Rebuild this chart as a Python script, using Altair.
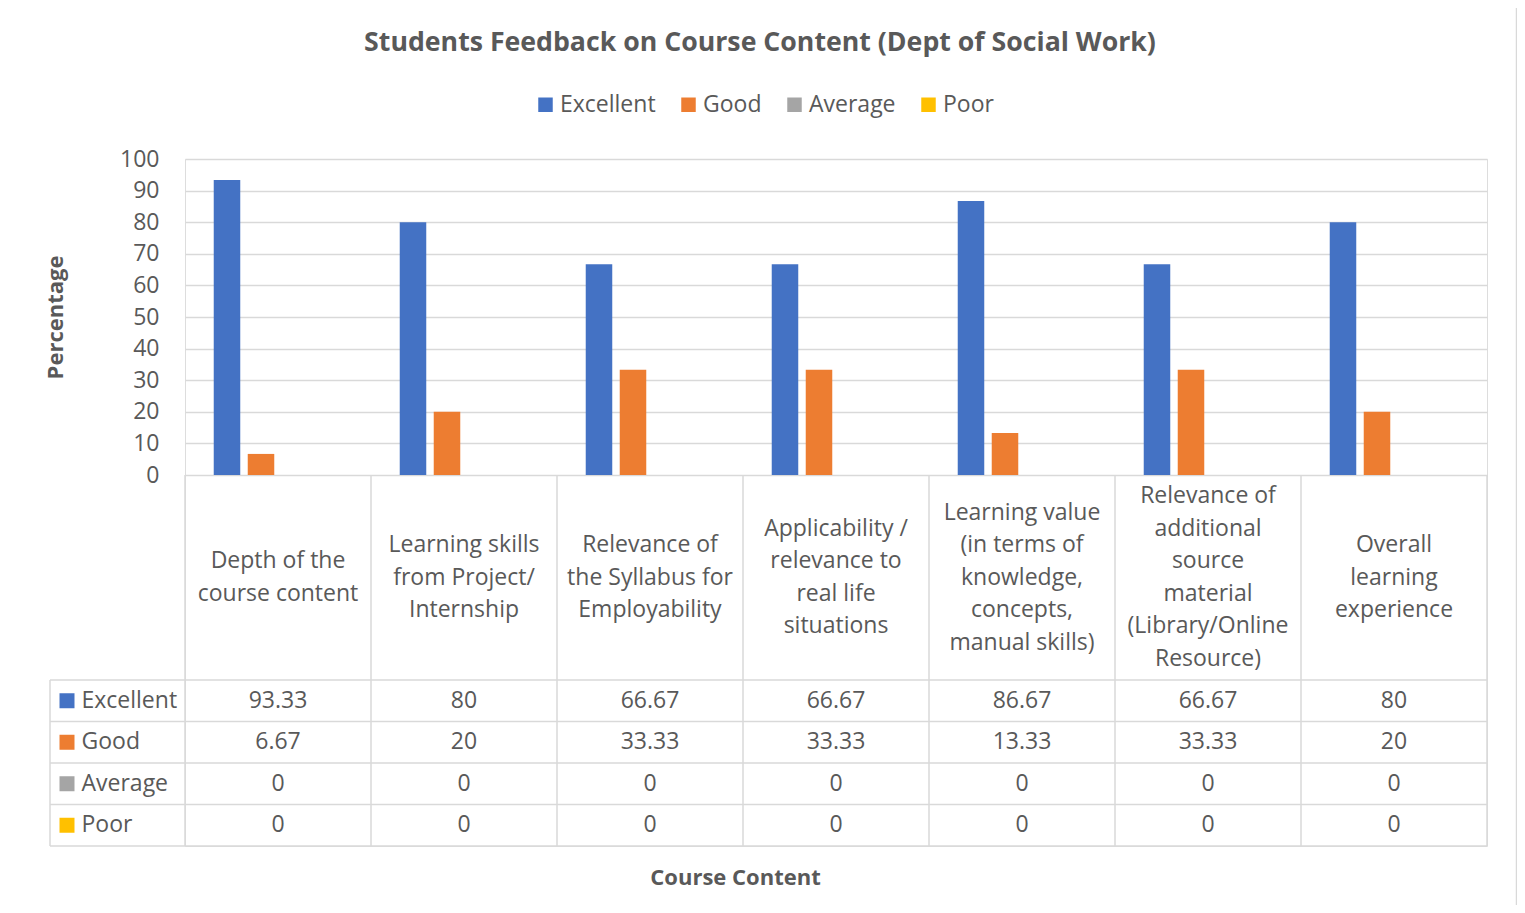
import altair as alt
import pandas as pd

TITLE = "Students Feedback on Course Content (Dept of Social Work)"
CATEGORIES = [
    "Depth of the course content",
    "Learning skills from Project/ Internship",
    "Relevance of the Syllabus for Employability",
    "Applicability / relevance to real life situations",
    "Learning value (in terms of knowledge, concepts, manual skills)",
    "Relevance of additional source material (Library/Online Resource)",
    "Overall learning experience",
]
CATEGORY_LINES = [
    "Depth of the\ncourse content",
    "Learning skills\nfrom Project/\nInternship",
    "Relevance of\nthe Syllabus for\nEmployability",
    "Applicability /\nrelevance to\nreal life\nsituations",
    "Learning value\n(in terms of\nknowledge,\nconcepts,\nmanual skills)",
    "Relevance of\nadditional\nsource\nmaterial\n(Library/Online\nResource)",
    "Overall\nlearning\nexperience",
]
SERIES = ["Excellent", "Good", "Average", "Poor"]
COLORS = ["#4472C4", "#ED7D31", "#A5A5A5", "#FFC000"]
EXCELLENT = [93.33, 80, 66.67, 66.67, 86.67, 66.67, 80]
GOOD = [6.67, 20, 33.33, 33.33, 13.33, 33.33, 20]
AVERAGE = [0, 0, 0, 0, 0, 0, 0]
POOR = [0, 0, 0, 0, 0, 0, 0]
Y_TICKS = [0, 10, 20, 30, 40, 50, 60, 70, 80, 90, 100]

TEXT = "#595959"
LINE = "#D9D9D9"
FONT = "Open Sans"
FS = 23          # regular text size
FS_AX = 22       # bold axis titles
FS_TITLE = 26.7  # chart title
LH = 32.5        # line height of the wrapped category labels

# ---- tables built from the arrays above
values = {"Excellent": EXCELLENT, "Good": GOOD, "Average": AVERAGE, "Poor": POOR}
rows = []
for s in SERIES:
    for c, v in zip(CATEGORIES, values[s]):
        rows.append({"category": c, "series": s, "value": v, "label": f"{v:g}"})
df = pd.DataFrame(rows)
cats_df = pd.DataFrame({"category": CATEGORIES, "cat_label": CATEGORY_LINES})
rows_df = pd.DataFrame({"series": SERIES})

# ---- layout (pixels inside the plot area)
W = 1302
BAR_H = 316
HEAD_B = 521
TABLE_B = 687
H = TABLE_B
HEAD_MID = (BAR_H + HEAD_B) / 2

x_scale = alt.Scale(type="band", domain=CATEGORIES, paddingInner=0, paddingOuter=0)
y_bar = alt.Scale(domain=[0, 100], range=[BAR_H, 0], nice=False)
row_scale = alt.Scale(type="band", domain=SERIES, range=[HEAD_B, TABLE_B],
                      paddingInner=0, paddingOuter=0)
color_scale = alt.Scale(domain=SERIES, range=COLORS)
xoff_scale = alt.Scale(domain=SERIES, paddingInner=0.22, paddingOuter=0.845)

x_axis = alt.Axis(labels=False, ticks=False, domain=False, grid=False,
                  title="Course Content", titleFontSize=FS_AX, titleFontWeight="bold",
                  titleColor=TEXT, titleFont=FONT, titleX=550, titleY=31,
                  titleAlign="center", titleBaseline="middle")


def X(band=None):
    if band is None:
        return alt.X("category:N", scale=x_scale, axis=x_axis)
    return alt.X("category:N", scale=x_scale, axis=x_axis, bandPosition=band)


legend = alt.Legend(orient="none", legendX=349, legendY=-66, direction="horizontal",
                    title=None, symbolType="square", symbolSize=210, symbolStrokeWidth=0,
                    symbolOpacity=1, labelFontSize=FS, labelColor=TEXT, labelFont=FONT,
                    labelOffset=3, columnPadding=21, padding=0)

bars = alt.Chart(df).mark_bar().encode(
    x=X(),
    xOffset=alt.XOffset("series:N", scale=xoff_scale),
    y=alt.Y("value:Q", scale=y_bar,
            axis=alt.Axis(values=Y_TICKS, grid=True, gridColor=LINE, gridWidth=1.5,
                          domain=False, ticks=False, tickSize=0, labelPadding=26,
                          labelFontSize=FS, labelColor=TEXT, labelFont=FONT,
                          title="Percentage", titleFontSize=FS_AX, titleFontWeight="bold",
                          titleColor=TEXT, titleFont=FONT, titleX=-130, titleY=158,
                          titleAngle=270, titleAlign="center", titleBaseline="middle")),
    color=alt.Color("series:N", scale=color_scale, legend=legend),
)

cells = alt.Chart(df).mark_text(fontSize=FS, color=TEXT, font=FONT).encode(
    x=X(),
    y=alt.Y("series:N", scale=row_scale,
            axis=alt.Axis(orient="left", title=None, domain=False, ticks=False, tickSize=0,
                          grid=False, labelAlign="left", labelPadding=104,
                          labelFontSize=FS, labelColor=TEXT, labelFont=FONT,
                          labelBaseline="middle")),
    text="label:N",
)

squares = alt.Chart(rows_df).mark_square(size=225, opacity=1).encode(
    x=alt.value(-118),
    y=alt.Y("series:N", scale=row_scale, axis=None),
    color=alt.Color("series:N", scale=color_scale, legend=legend),
)

hrules = alt.Chart(rows_df).mark_rule(color=LINE, strokeWidth=1.5).encode(
    y=alt.Y("series:N", scale=row_scale, axis=None, bandPosition=0),
    x=alt.value(-135), x2=alt.value(W),
)
hlast = alt.Chart(rows_df.tail(1)).mark_rule(color=LINE, strokeWidth=1.5).encode(
    y=alt.Y("series:N", scale=row_scale, axis=None, bandPosition=1),
    x=alt.value(-135), x2=alt.value(W),
)
vrules = alt.Chart(cats_df).mark_rule(color=LINE, strokeWidth=1.5).encode(
    x=X(0), y=alt.value(BAR_H), y2=alt.value(TABLE_B),
)
vlast = alt.Chart(cats_df.tail(1)).mark_rule(color=LINE, strokeWidth=1.5).encode(
    x=X(1), y=alt.value(BAR_H), y2=alt.value(TABLE_B),
)
vleft = alt.Chart(rows_df.head(1)).mark_rule(color=LINE, strokeWidth=1.5).encode(
    x=alt.value(-135), y=alt.value(HEAD_B), y2=alt.value(TABLE_B),
)

# wrapped category labels, vertically centred in the header row of the table
header = alt.Chart(cats_df).transform_calculate(
    nl="length(split(datum.cat_label, '\\n'))"
).transform_calculate(
    ypos=f"{HEAD_MID} - (datum.nl - 1) * {LH} / 2"
).mark_text(fontSize=FS, color=TEXT, font=FONT, lineBreak="\n", lineHeight=LH,
            baseline="middle", align="center").encode(
    x=X(), y=alt.Y("ypos:Q", scale=None), text="cat_label:N",
)

title = alt.Chart(pd.DataFrame({"t": [TITLE]})).mark_text(
    fontSize=FS_TITLE, fontWeight="bold", color=TEXT, font=FONT, baseline="middle",
    align="center").encode(text="t:N", x=alt.value(575), y=alt.value(-116))

border = alt.Chart(pd.DataFrame({"t": [0]})).mark_rect(
    filled=False, stroke=LINE, strokeWidth=1.5, fillOpacity=0).encode(
    x=alt.value(-180), x2=alt.value(1331.5), y=alt.value(-157), y2=alt.value(800))

chart = alt.layer(
    border, vrules, vlast, vleft, hrules, hlast, bars, squares, cells, header, title
).resolve_scale(y="independent").properties(
    width=W, height=H,
    padding={"left": 177, "top": 151, "right": 30, "bottom": 59},
    autosize=alt.AutoSizeParams(type="none"),
    background="white",
).configure_view(stroke=None).configure(font=FONT)

chart.save("out.html", embed_options={"renderer": "svg", "actions": False})
